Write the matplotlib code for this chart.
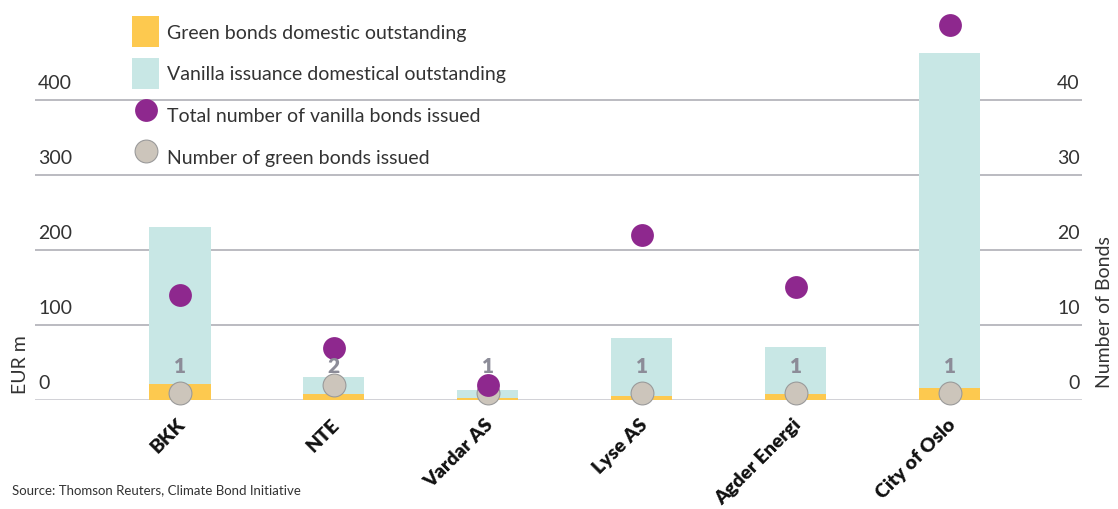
import numpy as np
import matplotlib
matplotlib.use("Agg")
import matplotlib.pyplot as plt
from matplotlib.transforms import ScaledTranslation, blended_transform_factory

plt.rcParams['font.family'] = ['Lato', 'DejaVu Sans']

# ---- data ----
issuers = ['BKK', 'NTE', 'Vardar AS', 'Lyse AS', 'Agder Energi', 'City of Oslo']
green_outstanding = [22, 8, 3, 6, 8, 16]          # EUR m
vanilla_outstanding = [209, 23, 11, 77, 63, 447]  # EUR m, stacked on green
vanilla_count = [14, 7, 2, 22, 15, 50]
green_count = [1, 2, 1, 1, 1, 1]
left_ticks = [0, 100, 200, 300, 400]
right_ticks = [0, 10, 20, 30, 40]

c_green = '#fdc94f'
c_vanilla = '#c8e7e5'
c_purple = '#8e288e'
c_gray = '#ccc5bb'
c_text = '#333333'

fig = plt.figure(figsize=(11.18, 5.10), dpi=100)
ax = fig.add_axes([35 / 1118, 1 - 401 / 510, (1082 - 35) / 1118, 401 / 510])
ax2 = ax.twinx()

x = np.arange(len(issuers))
b1 = ax.bar(x, green_outstanding, width=0.4, color=c_green, zorder=2)
b2 = ax.bar(x, vanilla_outstanding, width=0.4, bottom=green_outstanding,
            color=c_vanilla, zorder=2)

ax.set_xlim(-0.94, 5.86)
ax.set_ylim(0, 401 / 0.75)
ax2.set_ylim(0, 401 / 7.5)

# grid lines
ax.set_yticks(left_ticks[1:])
ax.yaxis.grid(True, color='#a8a8b0', linewidth=1.1)
ax.set_axisbelow(True)
ax.axhline(0, color='#c4c4ca', linewidth=1.8, zorder=1)
ax.tick_params(axis='y', length=0, labelleft=False)
ax2.set_yticks([])

up = ScaledTranslation(0, 17 / 100, fig.dpi_scale_trans)
tl = blended_transform_factory(ax.transAxes, ax.transData) + up
for t in left_ticks:
    ax.text(0.003, t, str(t), transform=tl, ha='left', va='center',
            fontsize=14, color=c_text)
tr = blended_transform_factory(ax2.transAxes, ax2.transData) + up
for t in right_ticks:
    ax2.text(0.998, t, str(t), transform=tr, ha='right', va='center',
             fontsize=14, color=c_text)

# dots (purple drawn over the grey ones)
s2 = ax2.scatter(x, green_count, s=270, color=c_gray, edgecolors='#9a9a9a',
                 linewidths=0.8, zorder=3, clip_on=False)
s1 = ax2.scatter(x, vanilla_count, s=270, color=c_purple, zorder=4,
                 clip_on=False, linewidths=0)
for xi, n in zip(x, green_count):
    ax2.text(xi, 4.6, str(n), ha='center', va='center', fontsize=15,
             fontweight='heavy', color='#8c8c98', zorder=5)

# x labels
ax.set_xticks(x)
ax.set_xticklabels(issuers, rotation=45, ha='right', va='center',
                   rotation_mode='anchor', fontsize=14, fontweight='heavy',
                   color='#111111')
ax.tick_params(axis='x', length=0, pad=15)
shift = ScaledTranslation(3 / 100, 0, fig.dpi_scale_trans)
for lab in ax.get_xticklabels():
    lab.set_transform(lab.get_transform() + shift)

for a in (ax, ax2):
    for sp in a.spines.values():
        sp.set_visible(False)
    a.patch.set_visible(False)

fig.legend([b1, b2, s1, s2],
           ['Green bonds domestic outstanding',
            'Vanilla issuance domestical outstanding',
            'Total number of vanilla bonds issued',
            'Number of green bonds issued'],
           loc='upper left', bbox_to_anchor=(132 / 1118, 1 - 17 / 510),
           frameon=False, borderpad=0, borderaxespad=0, fontsize=14,
           handlelength=1.4, handleheight=2.08, handletextpad=0.4,
           labelspacing=0.55, labelcolor=c_text)

fig.text(20 / 1118, 1 - 365 / 510, 'EUR m', rotation=90, ha='center',
         va='center', fontsize=14, color=c_text)
fig.text(1105 / 1118, 1 - 312 / 510, 'Number of Bonds', rotation=90,
         ha='center', va='center', fontsize=14, color=c_text)
fig.text(12 / 1118, 1 - 490 / 510, 'Source: Thomson Reuters, Climate Bond Initiative',
         ha='left', va='center', fontsize=9.5, color=c_text)

fig.savefig('out.png', dpi=100)
